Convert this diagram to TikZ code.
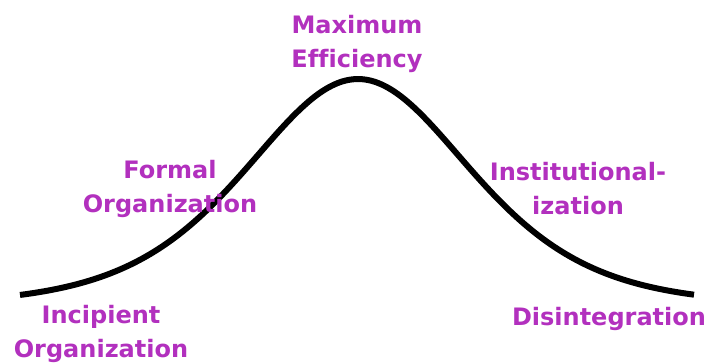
\documentclass[tikz,border=0pt]{standalone}
\usepackage{fontspec}
\setmainfont[Ligatures=CommonOff]{DejaVu Sans}
\usepackage{tikz}
\definecolor{lblpurple}{RGB}{178,48,190}
\tikzset{
  lbl/.style={align=center,inner sep=0pt,text=lblpurple,font=\bfseries\fontsize{24}{34}\selectfont},
  bell/.style={line width=6pt,black}
}

\begin{document}
\begin{tikzpicture}[x=1pt,y=-1pt]
\useasboundingbox (0,0) rectangle (707,362);
% bell curve, sech^2 profile
\draw[bell] plot[domain=20:694,samples=120,smooth] (\x,{305-226/(cosh((\x-358)/151))^2});
\node[lbl] (maxeff) at (357,44) {Maximum\\Efficiency};
\node[lbl] (formal) at (170,189) {Formal\\Organization};
\node[lbl] (incip) at (101,334) {Incipient\\Organization};
\node[lbl] (instit) at (578,189) {Institutional-\\ization};
\node[lbl] (disint) at (609,319) {Disintegration};
\end{tikzpicture}
\end{document}
